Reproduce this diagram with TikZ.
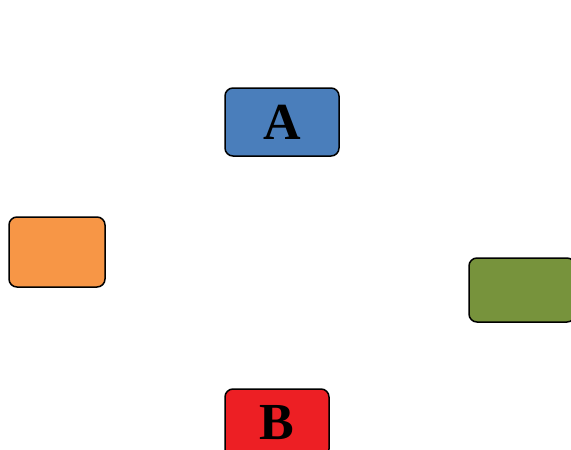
\documentclass[tikz,border=0pt]{standalone}
\usepackage{fontspec}
\setmainfont{Liberation Serif}
\usepackage{tikz}
\usetikzlibrary{positioning}
\definecolor{cA}{HTML}{4A7EBB}
\definecolor{cB}{HTML}{ED1F24}
\definecolor{cC}{HTML}{F79646}
\definecolor{cD}{HTML}{77933C}
\tikzset{
  card/.style={rounded corners=8pt,draw=black,line width=1.5pt,inner sep=0pt,align=center,font=\fontsize{52}{52}\selectfont\bfseries},
}

\begin{document}
\begin{tikzpicture}[x=1pt,y=-1pt]
  \useasboundingbox (0,0) rectangle (571,450);
  \clip (0,0) rectangle (571,450);
  \node[card,fill=cA,minimum width=114pt,minimum height=68pt] (nA) at (282,122){A};
  \node[card,fill=cC,minimum width=96pt,minimum height=70pt] (nOr) at (57,252){};
  \node[card,fill=cD,minimum width=106pt,minimum height=64pt] (nGr) at (522,290){};
  \node[card,fill=cB,minimum width=104pt,minimum height=68pt] (nB) at (277,423){B};
\end{tikzpicture}
\end{document}
